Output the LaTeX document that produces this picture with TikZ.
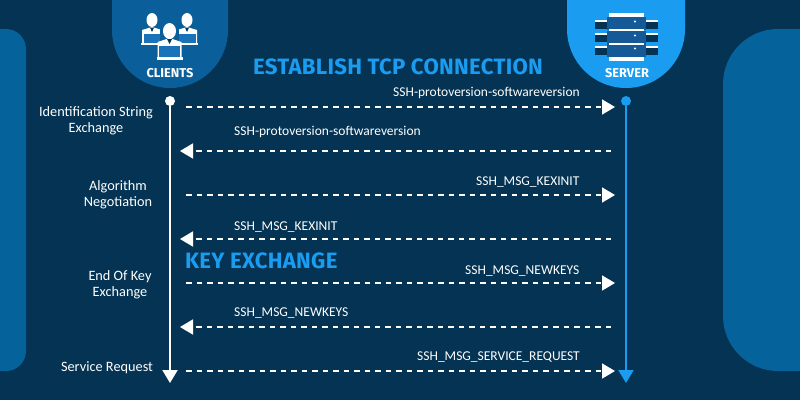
\documentclass[tikz,border=0pt]{standalone}
\usepackage{fontspec}
\setmainfont{Carlito}
\newfontfamily\titlefont{Fira Sans}[LetterSpace=1.2]
\newfontfamily\badgefont{Fira Sans}
\usetikzlibrary{arrows.meta}
\definecolor{bgc}{HTML}{043353}
\definecolor{panelc}{HTML}{06629A}
\definecolor{clientc}{HTML}{0A5F9A}
\definecolor{serverc}{HTML}{1A9CF0}
\definecolor{deskc}{HTML}{1A72B8}
\definecolor{srvc}{HTML}{155A96}
\tikzset{
  msg/.style={draw=white,line width=1.7pt,dash pattern=on 5.5pt off 5pt,-{Triangle[length=13pt,width=15pt,fill=white]}},
  lifeC/.style={draw=white,line width=2pt,-{Triangle[length=13pt,width=15pt,fill=white]}},
  lifeS/.style={draw=serverc,line width=2pt,-{Triangle[length=13pt,width=15pt,fill=serverc]}},
  lbl/.style={text=white,font=\fontsize{13.5}{14}\selectfont,inner sep=0pt,anchor=base west},
  step label/.style={text=white,font=\fontsize{14.3}{16}\selectfont,inner sep=0pt,align=center},
  big title/.style={text=serverc,font=\titlefont\bfseries\fontsize{22.2}{24}\selectfont,inner sep=0pt,anchor=base west},
  badge text/.style={text=white,font=\badgefont\bfseries\fontsize{12.8}{14}\selectfont,inner sep=0pt},
  dot/.style={circle,inner sep=0pt,minimum size=10pt}
}
\begin{document}
\begin{tikzpicture}[x=1pt,y=-1pt]
\useasboundingbox (0,0) rectangle (800,400);
\fill[bgc] (0,0) rectangle (800,400);
% side panels
\fill[panelc] (-20,29) -- (6,29) arc[start angle=-90,end angle=0,radius=20] -- (26,351) arc[start angle=0,end angle=90,radius=20] -- (-20,371) -- cycle;
\fill[panelc] (820,29) -- (778,29) arc[start angle=-90,end angle=-180,radius=55] -- (723,316) arc[start angle=180,end angle=90,radius=55] -- (820,371) -- cycle;
% badges
\fill[clientc] (112,-2) -- (112,30) arc[start angle=180,end angle=0,radius=58] -- (228,-2) -- cycle;
\fill[serverc] (567,-2) -- (567,29) arc[start angle=180,end angle=0,radius=59] -- (685,-2) -- cycle;
% client icon
\foreach \cx/\cy in {152/13,187/13}{
  \fill[white] (\cx,\cy+7) ellipse[x radius=5.5,y radius=7];
  \fill[white] (\cx-10,\cy+30) -- (\cx-10,\cy+17) -- (\cx,\cy+14) -- (\cx+10,\cy+17) -- (\cx+10,\cy+30) -- cycle;
  \fill[bgc] (\cx-2,\cy+14.5) -- (\cx+2,\cy+14.5) -- (\cx,\cy+19) -- cycle;
  \fill[deskc] (\cx-8.5,\cy+21) rectangle (\cx+8.5,\cy+30);
  \fill[white] (\cx-11,\cy+30) rectangle (\cx+11,\cy+32);
}
\fill[clientc] (160,23) rectangle (179,46);
\fill[white] (169.5,31) ellipse[x radius=6.5,y radius=8];
\fill[white] (157.5,57) -- (157.5,42) -- (169.5,38) -- (181.5,42) -- (181.5,57) -- cycle;
\fill[bgc] (167,39) -- (172,39) -- (169.5,44) -- cycle;
\fill[deskc] (159,46) rectangle (180,57);
\fill[white] (157,57) rectangle (183,60);
\node[badge text] (clients) at (170,73.5) {CLIENTS};
% server icon
\foreach \yy in {20,33,46}{
  \fill[bgc] (595,\yy+2) rectangle (658,\yy+9);
  \fill[white] (595,\yy) rectangle (608,\yy+2);
  \fill[white] (646,\yy) rectangle (658,\yy+2);
}
\foreach \yy in {17,31,44}{
  \fill[srvc] (607,\yy) rectangle (646,\yy+13);
  \fill[white] (635,\yy+4.5) circle[radius=1.2];
}
\fill[white] (609,13) rectangle (644,17);
\fill[white] (609,29) rectangle (644,31);
\fill[white] (609,43) rectangle (644,45);
\fill[white] (609,57) rectangle (644,61);
\node[badge text] (server) at (627,73.5) {SERVER};
% titles
\node[big title] (tcp) at (253,74) {ESTABLISH TCP CONNECTION};
\node[big title] (kex) at (185,268) {KEY EXCHANGE};
% lifelines
\node[dot,fill=white] (cdot) at (170,101) {};
\node[dot,fill=serverc] (sdot) at (626,101) {};
\coordinate (cend) at (170,383);
\coordinate (send) at (626,383);
\draw[lifeC] (cdot) -- (cend);
\draw[lifeS] (sdot) -- (send);
% messages
\foreach \n/\y in {a/107,c/195,e/283,g/371}{
  \coordinate (\n L) at (186,\y); \coordinate (\n R) at (615,\y);
  \draw[msg] (\n L) -- (\n R);
}
\foreach \n/\y in {b/151,d/239,f/327}{
  \coordinate (\n R) at (611,\y); \coordinate (\n L) at (180,\y);
  \draw[msg] (\n R) -- (\n L);
}
\node[lbl] (m1) at (393,96) {SSH-protoversion-softwareversion};
\node[lbl] (m2) at (234,135) {SSH-protoversion-softwareversion};
\node[lbl] (m3) at (476,185) {SSH\_MSG\_KEXINIT};
\node[lbl] (m4) at (234,230) {SSH\_MSG\_KEXINIT};
\node[lbl] (m5) at (465,274) {SSH\_MSG\_NEWKEYS};
\node[lbl] (m6) at (234,316) {SSH\_MSG\_NEWKEYS};
\node[lbl] (m7) at (417,360) {SSH\_MSG\_SERVICE\_REQUEST};
% step labels
\node[step label] (s1) at (96,121) {Identification String\\Exchange};
\node[step label] (s2) at (118,195) {Algorithm\\Negotiation};
\node[step label] (s3) at (120,285) {End Of Key\\Exchange};
\node[step label] (s4) at (107,368) {Service Request};
\end{tikzpicture}
\end{document}
